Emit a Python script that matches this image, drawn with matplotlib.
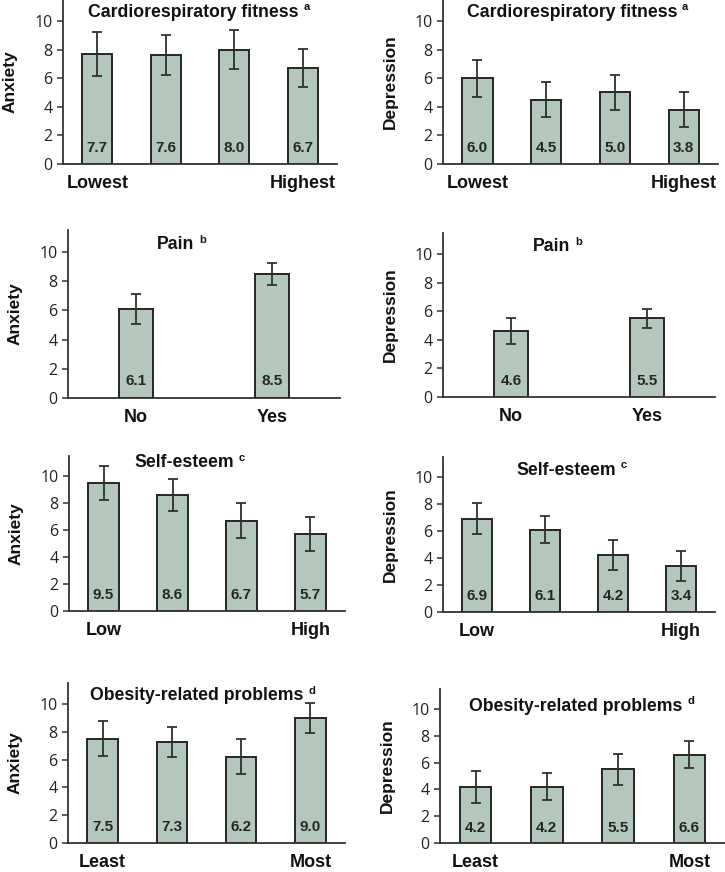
import matplotlib

matplotlib.use("Agg")
import matplotlib.pyplot as plt
import numpy as np

# panel values (mean score, error-bar half length)
anx_fitness = [7.7, 7.6, 8.0, 6.7]
anx_fitness_err = [1.55, 1.40, 1.37, 1.35]
dep_fitness = [6.0, 4.5, 5.0, 3.8]
dep_fitness_err = [1.30, 1.20, 1.20, 1.20]

anx_pain = [6.1, 8.5]
anx_pain_err = [1.00, 0.74]
dep_pain = [4.6, 5.5]
dep_pain_err = [0.90, 0.65]

anx_esteem = [9.5, 8.6, 6.7, 5.7]
anx_esteem_err = [1.27, 1.16, 1.27, 1.25]
dep_esteem = [6.9, 6.1, 4.2, 3.4]
dep_esteem_err = [1.15, 1.00, 1.10, 1.10]

anx_obesity = [7.5, 7.3, 6.2, 9.0]
anx_obesity_err = [1.26, 1.08, 1.26, 1.09]
dep_obesity = [4.2, 4.2, 5.5, 6.6]
dep_obesity_err = [1.20, 1.02, 1.15, 1.00]

fitness_cats = ["Lowest", "", "", "Highest"]
pain_cats = ["No", "Yes"]
esteem_cats = ["Low", "", "", "High"]
obesity_cats = ["Least", "", "", "Most"]

yticks = [0, 2, 4, 6, 8, 10]

W, H = 725, 872
BAR = "#b4c7bd"
INK = "#262626"
BOLD = ["Liberation Sans", "DejaVu Sans"]
REG = ["Open Sans", "DejaVu Sans"]

# (left px, width px, zero-line px, px per unit), title x frac, title y data
PANELS = [
    ((63, 274, 164, 14.3), anx_fitness, anx_fitness_err, fitness_cats,
     "Anxiety", "Cardiorespiratory fitness", "a", 0.476, 10.6),
    ((443, 275, 164, 14.3), dep_fitness, dep_fitness_err, fitness_cats,
     "Depression", "Cardiorespiratory fitness", "a", 0.469, 10.6),
    ((68, 272, 398, 14.6), anx_pain, anx_pain_err, pain_cats,
     "Anxiety", "Pain", "b", 0.397, 10.5),
    ((443, 272, 397, 14.3), dep_pain, dep_pain_err, pain_cats,
     "Depression", "Pain", "b", 0.399, 10.5),
    ((69, 276, 611, 13.5), anx_esteem, anx_esteem_err, esteem_cats,
     "Anxiety", "Self-esteem", "c", 0.417, 11.0),
    ((443, 272, 612, 13.5), dep_esteem, dep_esteem_err, esteem_cats,
     "Depression", "Self-esteem", "c", 0.452, 10.5),
    ((68, 277, 843, 13.9), anx_obesity, anx_obesity_err, obesity_cats,
     "Anxiety", "Obesity-related problems", "d", 0.464, 10.6),
    ((440, 285, 843, 13.4), dep_obesity, dep_obesity_err, obesity_cats,
     "Depression", "Obesity-related problems", "d", 0.477, 10.2),
]

YTOP = 11.5

fig = plt.figure(figsize=(W / 100, H / 100), dpi=100)

for (left, width, zero, scale), vals, errs, cats, ylab, title, sup, tx, ty in PANELS:
    height = YTOP * scale
    ax = fig.add_axes([left / W, (H - zero) / H, width / W, height / H])
    n = len(vals)
    x = np.arange(n)
    bw = 0.44 if n == 4 else 0.245
    ax.bar(x, vals, bw, color=BAR, edgecolor=INK, linewidth=1.4, zorder=2)
    ax.errorbar(x, vals, yerr=errs, fmt="none", ecolor="#303030",
                elinewidth=1.3, capsize=3.6, capthick=1.3, zorder=3)
    for xi, v in zip(x, vals):
        ax.text(xi, 1.15, f"{v:.1f}", ha="center", va="center",
                fontsize=11, fontweight="bold", family=BOLD, color=INK, zorder=4)

    ax.set_xlim(-0.5, n - 0.5)
    ax.set_ylim(0, YTOP)
    ax.set_yticks(yticks)
    ax.set_yticklabels([str(t) for t in yticks], family=REG, fontsize=11.5,
                       color="#222222")
    ax.set_xticks(x)
    ax.set_xticklabels(cats, family=BOLD, fontsize=13, fontweight="bold",
                       color="#111111")
    ax.tick_params(axis="x", length=0, pad=8)
    ax.tick_params(axis="y", length=4.5, width=1.1, color="#333333", pad=3)
    for s in ("top", "right"):
        ax.spines[s].set_visible(False)
    for s in ("left", "bottom"):
        ax.spines[s].set_color("#333333")
        ax.spines[s].set_linewidth(1.3)

    ax.set_ylabel(ylab, family=BOLD, fontsize=12.5, fontweight="bold",
                  color="#111111")
    ax.yaxis.set_label_coords(-45 / width, 0.5)

    t = ax.text(tx, ty / YTOP, title, transform=ax.transAxes, ha="center",
                va="center", fontsize=12.7, fontweight="bold", family=BOLD,
                color="#111111")
    ax.annotate(sup, xy=(1, 0.5), xycoords=t, xytext=(3.5, 0),
                textcoords="offset points", ha="left", va="bottom",
                fontsize=8, fontweight="bold", family=BOLD, color="#111111")

fig.savefig("out.png", dpi=100)
